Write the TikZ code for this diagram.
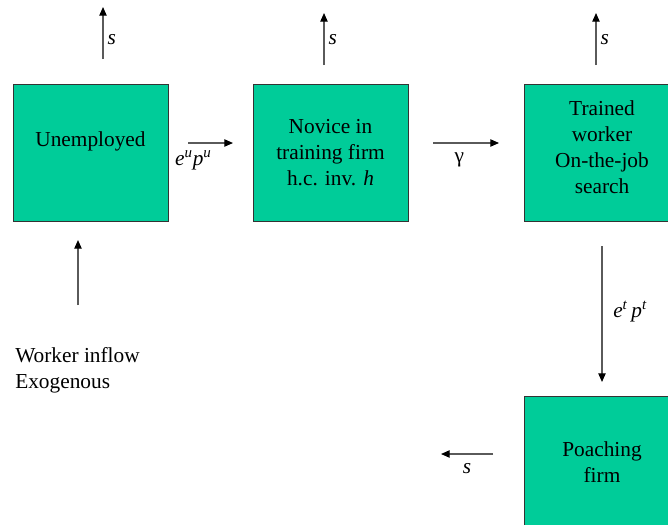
\documentclass[tikz,border=0pt]{standalone}
\usepackage{fontspec}
\setmainfont{Liberation Serif}
\usetikzlibrary{arrows.meta}
\definecolor{flowGreen}{HTML}{00CC99}
\definecolor{flowEdge}{HTML}{333333}
\definecolor{flowLine}{HTML}{5A5A5A}
\newcommand{\flowrate}[2]{\textit{#1}\textsuperscript{\textit{#2}}}

\begin{document}
\begin{tikzpicture}[x=0.75pt,y=-0.75pt,font={\fontsize{16}{19.5}\selectfont},
    state/.style={draw=flowEdge,fill=flowGreen,line width=0.75pt,align=center,
                  minimum width=116.25pt,minimum height=102.75pt,inner sep=2pt},
    flow/.style={-{Triangle[length=6.5pt,width=5.5pt,color=black]},flowLine,line width=0.9pt},
    lab/.style={inner sep=3pt,text=black},
    lablow/.style={below,inner sep=7pt,text=black}]
  \useasboundingbox (0,0) rectangle (668,525);
  \node[state,label={[name=unemp-txt,yshift=8pt]center:Unemployed}] (unemp) at (90.5,152.5) {};
  \node[state] (novice)  at (330.5,152.5) {Novice in\\training firm\\h.c. inv. \textit{h}};
  \node[state,minimum width=117pt,
        label={[name=trained-txt,align=center,yshift=4pt]center:Trained\\worker\\On-the-job\\search}] (trained) at (602,152.5) {};
  \node[state,minimum width=117pt,minimum height=99pt] (poach) at (602,462) {Poaching\\firm};
  \node[align=left,inner sep=0pt,anchor=west] (inflow) at (15,370) {Worker inflow\\Exogenous};
  % separation flows
  \foreach \b/\x/\y/\p in {unemp/103/59/0.37,novice/324/65/0.48,trained/596/65/0.48} {
    \coordinate (\b-s0) at (\x,\y);
    \coordinate (\b-s1) at (\x,\y-52);
    \draw[flow] (\b-s0) -- node[lab,right,pos=\p] {\textit{s}} (\b-s1);
  }
  \coordinate (eu0) at (188,143);  \coordinate (eu1) at (233,143);
  \coordinate (ga0) at (433,143);  \coordinate (ga1) at (499,143);
  \coordinate (et0) at (602,246);  \coordinate (et1) at (602,382);
  \coordinate (in0) at (78,305);   \coordinate (in1) at (78,240);
  \coordinate (ps0) at (493,454);  \coordinate (ps1) at (441,454);
  \draw[flow] (eu0) -- node[lablow,pos=0.12,inner sep=5pt] {\flowrate{e}{u}\flowrate{p}{u}} (eu1);
  \draw[flow] (ga0) -- node[lablow,pos=0.4] {γ} (ga1);
  \draw[flow] (et0) -- node[lab,right,pos=0.48,inner sep=8pt] {\flowrate{e}{t}\,\flowrate{p}{t}} (et1);
  \draw[flow] (in0) -- (in1);
  \draw[flow] (ps0) -- node[lablow] {\textit{s}} (ps1);
\end{tikzpicture}
\end{document}
